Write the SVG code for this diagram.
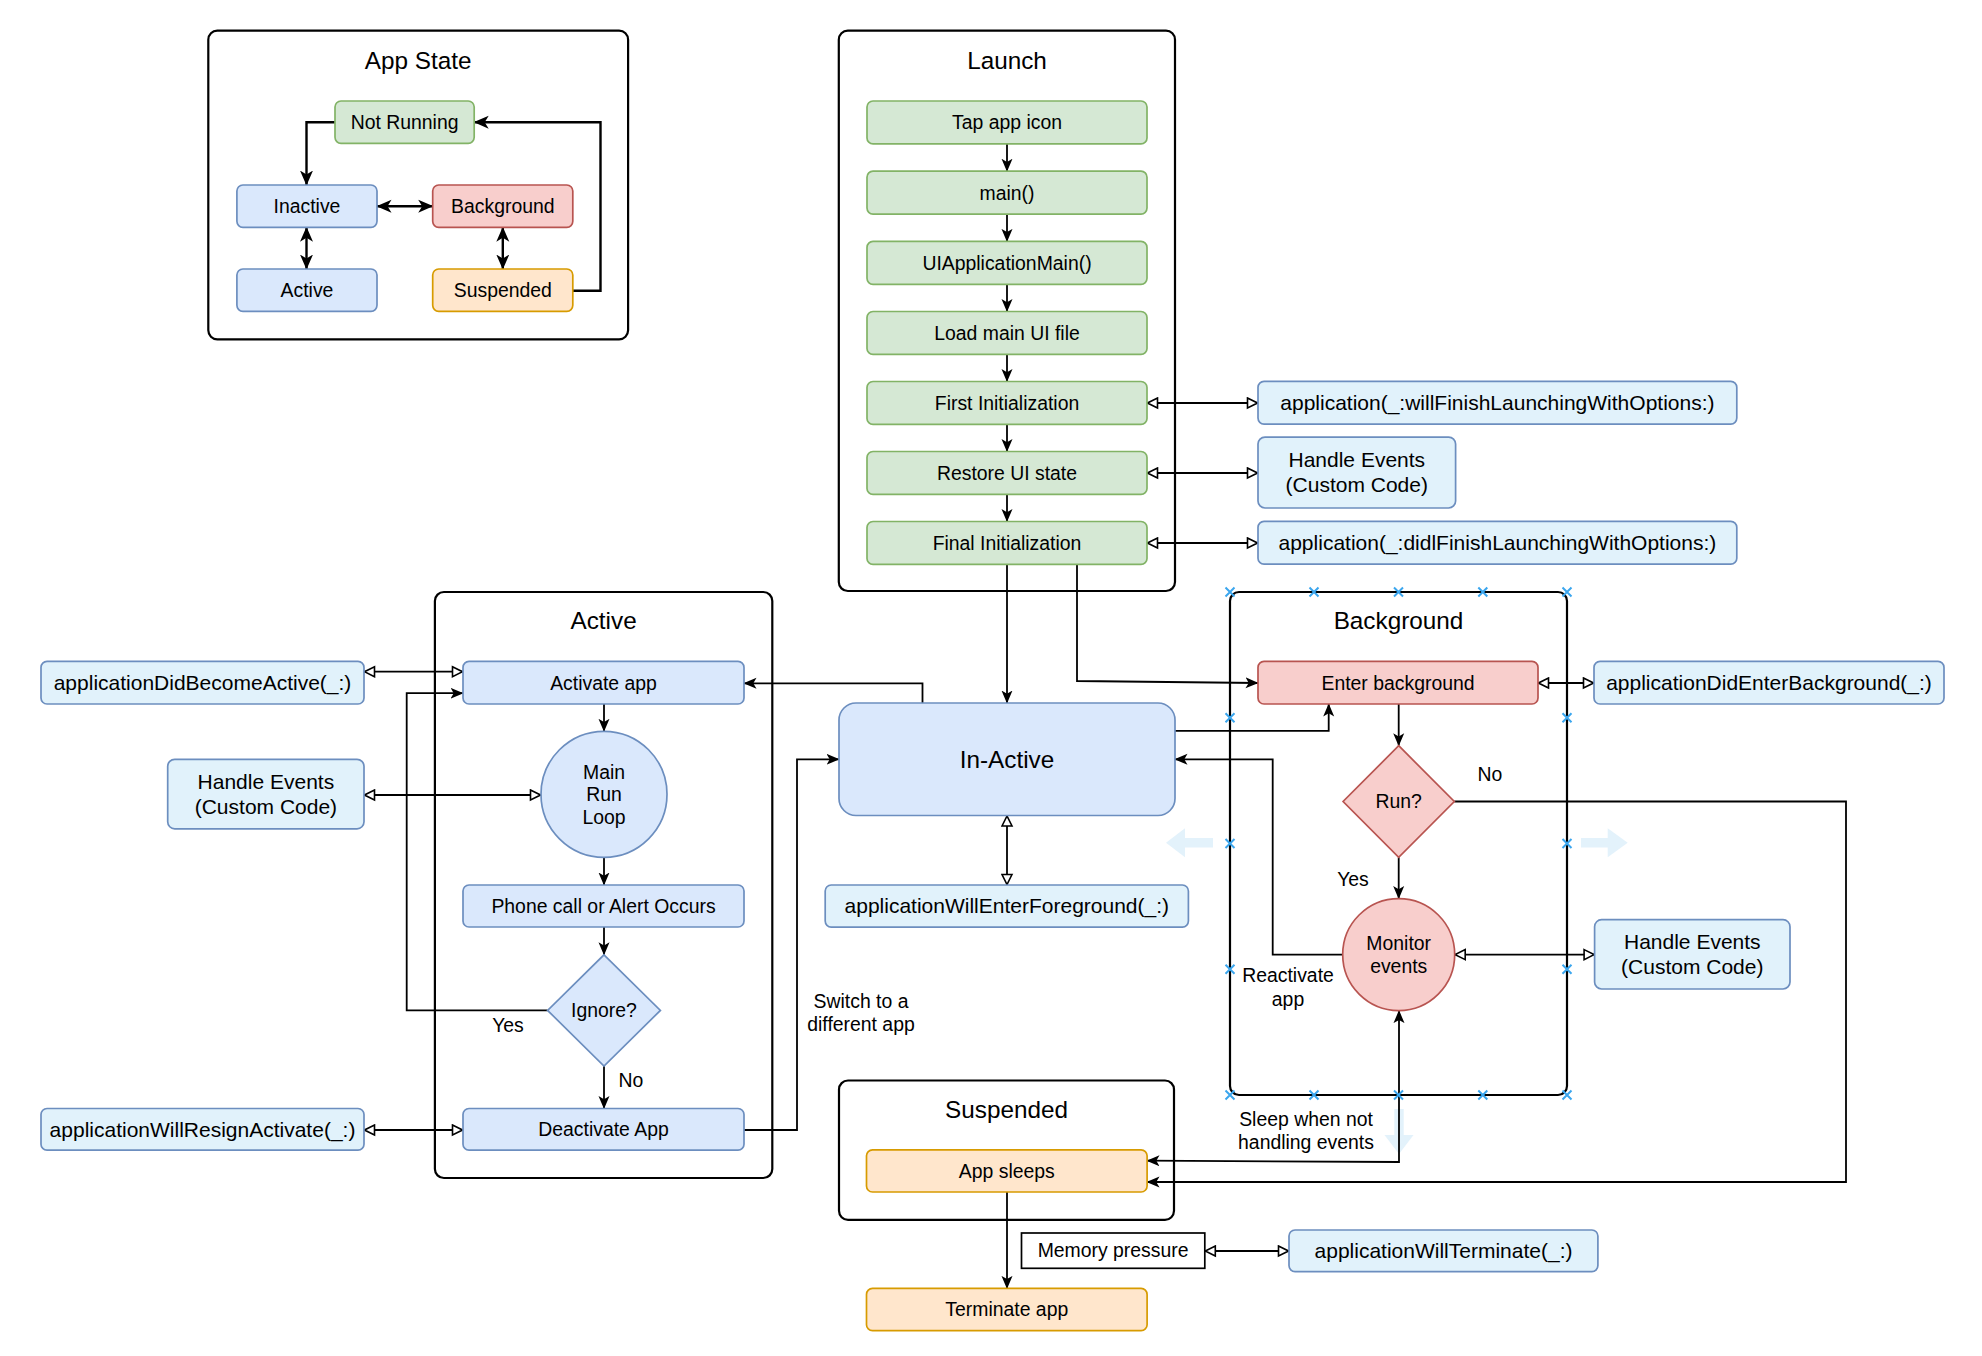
<svg xmlns="http://www.w3.org/2000/svg" width="1982" height="1356" viewBox="0 0 1982 1356">
<style>
text{font-family:"Liberation Sans",Arial,Helvetica,sans-serif;fill:#000;text-anchor:middle}
.t12{font-size:19.4px}
.t13{font-size:21px}
.t15{font-size:24.3px}
.cont{fill:#fff;stroke:#000;stroke-width:2.2}
.g{fill:#d5e8d4;stroke:#82b366;stroke-width:1.7}
.b{fill:#dae8fc;stroke:#6c8ebf;stroke-width:1.7}
.r{fill:#f8cecc;stroke:#b85450;stroke-width:1.7}
.o{fill:#ffe6cc;stroke:#d79b00;stroke-width:1.7}
.cb{fill:#e1f2fb;stroke:#6c8ebf;stroke-width:1.7}
.mp{fill:#fff;stroke:#000;stroke-width:1.7}
.c{fill:none;stroke:#000;stroke-width:1.8}
.cs{fill:none;stroke:#000;stroke-width:2.4}
.e{marker-end:url(#arr)}
.be{marker-start:url(#arr);marker-end:url(#arr)}
.es{marker-end:url(#arrB)}
.bes{marker-start:url(#arrB);marker-end:url(#arrB)}
.h{marker-start:url(#hol);marker-end:url(#hol)}
.xm{stroke:#3ba6ee;stroke-width:2;fill:none}
.ga{fill:#e3f2fb}
</style>
<defs>
<marker id="arr" viewBox="0 0 13 12" refX="12.5" refY="6" markerWidth="13" markerHeight="12" markerUnits="userSpaceOnUse" orient="auto-start-reverse"><path d="M0,0.5 L13,6 L0,11.5 L3.2,6 Z" fill="#000"/></marker>
<marker id="arrB" viewBox="0 0 15 14" refX="14.5" refY="7" markerWidth="15" markerHeight="14" markerUnits="userSpaceOnUse" orient="auto-start-reverse"><path d="M0,0.5 L15,7 L0,13.5 L4,7 Z" fill="#000"/></marker>
<marker id="hol" viewBox="0 0 13 13" refX="12" refY="6.5" markerWidth="13" markerHeight="13" markerUnits="userSpaceOnUse" orient="auto-start-reverse"><path d="M1.5,1.5 L11.5,6.5 L1.5,11.5 Z" fill="#fff" stroke="#000" stroke-width="1.6"/></marker>
</defs>

<!-- containers -->
<g id="appstate-container"><rect class="cont" x="208.3" y="30.7" width="419.8" height="308.6" rx="9"/><text class="t15" x="418.2" y="68.5">App State</text></g>
<g id="launch-container"><rect class="cont" x="838.8" y="30.7" width="336.2" height="560.3" rx="9"/><text class="t15" x="1007" y="68.5">Launch</text></g>
<g id="active-container"><rect class="cont" x="434.9" y="592" width="337.4" height="586" rx="9"/><text class="t15" x="603.6" y="628.5">Active</text></g>
<g id="background-container"><rect class="cont" x="1230" y="592" width="337" height="503" rx="9"/><text class="t15" x="1398.5" y="628.5">Background</text></g>
<g id="suspended-container"><rect class="cont" x="839" y="1080.5" width="335" height="139.3" rx="9"/><text class="t15" x="1006.5" y="1117.5">Suspended</text></g>

<!-- faint drag arrows -->
<g id="hover-arrows">
<polygon class="ga" points="1166,842.7 1185,828.2 1185,838 1213,838 1213,847.4 1185,847.4 1185,857.2"/>
<polygon class="ga" points="1627.7,842.7 1607.7,828.2 1607.7,838 1581,838 1581,847.4 1607.7,847.4 1607.7,857.2"/>
<polygon class="ga" points="1399,1154 1384.5,1135 1394.3,1135 1394.3,1109 1403.7,1109 1403.7,1135 1413.5,1135"/>
</g>

<!-- connectors -->
<g id="connectors">
<path class="cs es" d="M335,122.2 H306.5 V185"/>
<path class="cs bes" d="M377,206.2 H432.7"/>
<path class="cs bes" d="M306.5,227.3 V269"/>
<path class="cs bes" d="M502.8,227.3 V269"/>
<path class="cs es" d="M572.8,290.7 H600.5 V122.2 H474.2"/>

<path class="c e" d="M1007,143.9 V171.2"/>
<path class="c e" d="M1007,214.1 V241.4"/>
<path class="c e" d="M1007,284.3 V311.5"/>
<path class="c e" d="M1007,354.4 V381.5"/>
<path class="c e" d="M1007,424.4 V451.5"/>
<path class="c e" d="M1007,494.4 V521.5"/>
<path class="c h" d="M1147,403 H1258"/>
<path class="c h" d="M1147,473 H1258"/>
<path class="c h" d="M1147,543 H1258"/>
<path class="c e" d="M1007,564.4 V703"/>
<path class="c e" d="M1077,564.4 V681 L1258,683"/>

<path class="c h" d="M1007,815.5 V885"/>

<path class="c e" d="M604,704 V731.3"/>
<path class="c e" d="M604,857.3 V885"/>
<path class="c e" d="M604,927 V954.8"/>
<path class="c e" d="M604,1066 V1108.5"/>
<path class="c e" d="M547.6,1010.4 H406.7 V693.2 H463"/>
<path class="c h" d="M364,671.7 H463"/>
<path class="c h" d="M364,795 H541"/>
<path class="c h" d="M364,1130 H463"/>
<path class="c e" d="M744,1130 H797 V759.3 H839"/>
<path class="c e" d="M922.5,703 V683.3 H744"/>

<path class="c h" d="M1538,683 H1594"/>
<path class="c e" d="M1398.7,704 V745.7"/>
<path class="c e" d="M1398.7,857.3 V898.6"/>
<path class="c h" d="M1454.7,954.6 H1594.6"/>
<path class="c e" d="M1454.3,801.5 H1846 V1182 H1147"/>
<path class="c e" d="M1175,730.8 H1328.7 V704"/>
<path class="c e" d="M1342.7,954.6 H1272.7 V759.3 H1175"/>
<path class="c be" d="M1147,1160.7 L1399,1162 V1010.6"/>

<path class="c e" d="M1007,1192 V1288.4"/>
<path class="c h" d="M1204.8,1251 H1289"/>
</g>

<!-- selection marks -->
<g id="selection-marks" class="xm">
<path d="M1225.5,587.5 l9,9 m0,-9 l-9,9"/>
<path d="M1309.5,587.5 l9,9 m0,-9 l-9,9"/>
<path d="M1394,587.5 l9,9 m0,-9 l-9,9"/>
<path d="M1478.3,587.5 l9,9 m0,-9 l-9,9"/>
<path d="M1562.5,587.5 l9,9 m0,-9 l-9,9"/>
<path d="M1225.5,1090.5 l9,9 m0,-9 l-9,9"/>
<path d="M1309.5,1090.5 l9,9 m0,-9 l-9,9"/>
<path d="M1394,1090.5 l9,9 m0,-9 l-9,9"/>
<path d="M1478.3,1090.5 l9,9 m0,-9 l-9,9"/>
<path d="M1562.5,1090.5 l9,9 m0,-9 l-9,9"/>
<path d="M1225.5,713.3 l9,9 m0,-9 l-9,9"/>
<path d="M1225.5,839 l9,9 m0,-9 l-9,9"/>
<path d="M1225.5,964.8 l9,9 m0,-9 l-9,9"/>
<path d="M1562.5,713.3 l9,9 m0,-9 l-9,9"/>
<path d="M1562.5,839 l9,9 m0,-9 l-9,9"/>
<path d="M1562.5,964.8 l9,9 m0,-9 l-9,9"/>
</g>

<!-- App State nodes -->
<g id="as-notrunning"><rect class="g" x="335" y="101" width="139.2" height="42.3" rx="6"/><text class="t12" x="404.6" y="129">Not Running</text></g>
<g id="as-inactive"><rect class="b" x="236.9" y="185" width="140.1" height="42.3" rx="6"/><text class="t12" x="307" y="213">Inactive</text></g>
<g id="as-background"><rect class="r" x="432.7" y="185" width="140.1" height="42.3" rx="6"/><text class="t12" x="502.8" y="213">Background</text></g>
<g id="as-active"><rect class="b" x="236.9" y="269" width="140.1" height="42.3" rx="6"/><text class="t12" x="307" y="297">Active</text></g>
<g id="as-suspended"><rect class="o" x="432.7" y="269" width="140.1" height="42.3" rx="6"/><text class="t12" x="502.8" y="297">Suspended</text></g>

<!-- Launch nodes -->
<g id="tap"><rect class="g" x="867" y="101" width="280" height="42.9" rx="6"/><text class="t12" x="1007" y="129.3">Tap app icon</text></g>
<g id="main"><rect class="g" x="867" y="171.2" width="280" height="42.9" rx="6"/><text class="t12" x="1007" y="199.5">main()</text></g>
<g id="uiappmain"><rect class="g" x="867" y="241.4" width="280" height="42.9" rx="6"/><text class="t12" x="1007" y="269.7">UIApplicationMain()</text></g>
<g id="loadui"><rect class="g" x="867" y="311.5" width="280" height="42.9" rx="6"/><text class="t12" x="1007" y="339.8">Load main UI file</text></g>
<g id="firstinit"><rect class="g" x="867" y="381.5" width="280" height="42.9" rx="6"/><text class="t12" x="1007" y="409.8">First Initialization</text></g>
<g id="restore"><rect class="g" x="867" y="451.5" width="280" height="42.9" rx="6"/><text class="t12" x="1007" y="479.8">Restore UI state</text></g>
<g id="finalinit"><rect class="g" x="867" y="521.5" width="280" height="42.9" rx="6"/><text class="t12" x="1007" y="549.8">Final Initialization</text></g>
<g id="cb-willfinish"><rect class="cb" x="1258" y="381.3" width="478.8" height="42.8" rx="6"/><text class="t13" x="1497.4" y="410">application(_:willFinishLaunchingWithOptions:)</text></g>
<g id="cb-handle-launch"><rect class="cb" x="1258" y="437.1" width="197.6" height="70.9" rx="7"/><text class="t13" x="1356.8" y="467.1">Handle Events</text><text class="t13" x="1356.8" y="492.4">(Custom Code)</text></g>
<g id="cb-didfinish"><rect class="cb" x="1258" y="521.3" width="478.8" height="42.9" rx="6"/><text class="t13" x="1497.4" y="550">application(_:didlFinishLaunchingWithOptions:)</text></g>

<!-- In-Active -->
<g id="inactive"><rect class="b" x="839" y="703" width="336" height="112.5" rx="17"/><text class="t15" x="1007" y="767.8">In-Active</text></g>
<g id="cb-willenterfg"><rect class="cb" x="825.2" y="885" width="363.2" height="42.1" rx="6"/><text class="t13" x="1006.8" y="913.4">applicationWillEnterForeground(_:)</text></g>

<!-- Active nodes -->
<g id="activate"><rect class="b" x="463" y="661.4" width="281" height="42.6" rx="6"/><text class="t12" x="603.5" y="689.5">Activate app</text></g>
<g id="runloop"><circle class="b" cx="604" cy="794.3" r="63"/><text class="t12" x="604" y="778.6">Main</text><text class="t12" x="604" y="801.3">Run</text><text class="t12" x="604" y="824">Loop</text></g>
<g id="phone"><rect class="b" x="463" y="885" width="281" height="42" rx="6"/><text class="t12" x="603.5" y="912.8">Phone call or Alert Occurs</text></g>
<g id="ignore"><polygon class="b" points="604,954.8 660.4,1010.4 604,1066 547.6,1010.4"/><text class="t12" x="604" y="1017.2">Ignore?</text></g>
<g id="deactivate"><rect class="b" x="463" y="1108.5" width="281" height="41.7" rx="6"/><text class="t12" x="603.5" y="1136.2">Deactivate App</text></g>
<g id="cb-didbecomeactive"><rect class="cb" x="41" y="661.4" width="323" height="42.6" rx="6"/><text class="t13" x="202.5" y="690">applicationDidBecomeActive(_:)</text></g>
<g id="cb-handle-active"><rect class="cb" x="167.7" y="759.3" width="196.3" height="69.5" rx="7"/><text class="t13" x="265.9" y="788.6">Handle Events</text><text class="t13" x="265.9" y="813.9">(Custom Code)</text></g>
<g id="cb-willresign"><rect class="cb" x="41" y="1108.5" width="323" height="41.7" rx="6"/><text class="t13" x="202.5" y="1136.7">applicationWillResignActivate(_:)</text></g>

<!-- Background nodes -->
<g id="enterbg"><rect class="r" x="1258" y="661.4" width="280" height="42.6" rx="6"/><text class="t12" x="1398" y="689.5">Enter background</text></g>
<g id="cb-didenterbg"><rect class="cb" x="1594" y="661.4" width="350" height="42.6" rx="6"/><text class="t13" x="1769" y="690">applicationDidEnterBackground(_:)</text></g>
<g id="run"><polygon class="r" points="1398.7,745.7 1454.3,801.5 1398.7,857.3 1343.1,801.5"/><text class="t12" x="1398.7" y="808.3">Run?</text></g>
<g id="monitor"><circle class="r" cx="1398.7" cy="954.6" r="56"/><text class="t12" x="1398.7" y="950">Monitor</text><text class="t12" x="1398.7" y="972.7">events</text></g>
<g id="cb-handle-bg"><rect class="cb" x="1594.6" y="919.7" width="195.4" height="69.3" rx="7"/><text class="t13" x="1692.3" y="948.9">Handle Events</text><text class="t13" x="1692.3" y="974.2">(Custom Code)</text></g>

<!-- Suspended / terminate -->
<g id="appsleeps"><rect class="o" x="866.5" y="1149.8" width="280.6" height="42.2" rx="6"/><text class="t12" x="1006.8" y="1177.8">App sleeps</text></g>
<g id="terminate"><rect class="o" x="866.5" y="1288.4" width="280.6" height="42.3" rx="6"/><text class="t12" x="1006.8" y="1316.4">Terminate app</text></g>
<g id="memory"><rect class="mp" x="1021.5" y="1233" width="183.3" height="35.3"/><text class="t12" x="1113.1" y="1257.4">Memory pressure</text></g>
<g id="cb-willterminate"><rect class="cb" x="1289" y="1230" width="308.9" height="41.6" rx="6"/><text class="t13" x="1443.5" y="1258.3">applicationWillTerminate(_:)</text></g>

<!-- edge labels -->
<g id="labels">
<text class="t12" x="508" y="1032">Yes</text>
<text class="t12" x="631" y="1087.2">No</text>
<text class="t12" x="861" y="1007.8">Switch to a</text>
<text class="t12" x="861" y="1030.8">different app</text>
<text class="t12" x="1490" y="780.8">No</text>
<text class="t12" x="1353" y="886">Yes</text>
<text class="t12" x="1288" y="981.8">Reactivate</text>
<text class="t12" x="1288" y="1005.8">app</text>
<text class="t12" x="1306" y="1126.2">Sleep when not</text>
<text class="t12" x="1306" y="1148.8">handling events</text>
</g>
</svg>
